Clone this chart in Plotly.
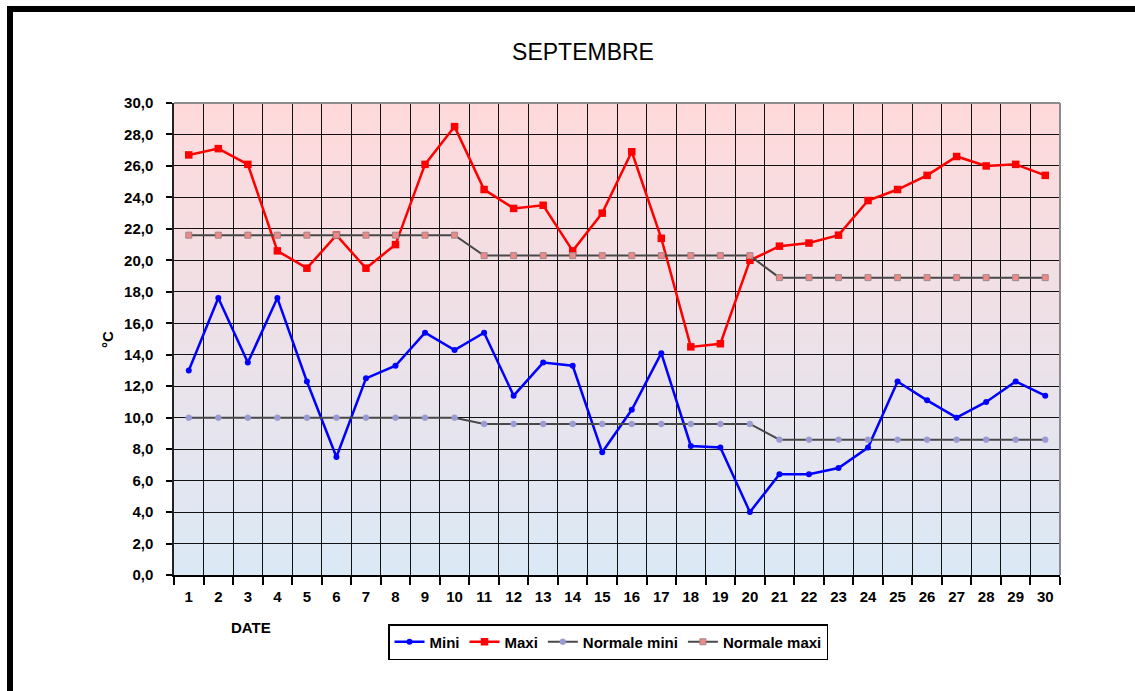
import plotly.graph_objects as go

# Températures journalières de septembre (°C)
days = list(range(1, 31))
mini = [13.0, 17.6, 13.5, 17.6, 12.3, 7.5, 12.5, 13.3, 15.4, 14.3,
        15.4, 11.4, 13.5, 13.3, 7.8, 10.5, 14.1, 8.2, 8.1, 4.0,
        6.4, 6.4, 6.8, 8.1, 12.3, 11.1, 10.0, 11.0, 12.3, 11.4]
maxi = [26.7, 27.1, 26.1, 20.6, 19.5, 21.6, 19.5, 21.0, 26.1, 28.5,
        24.5, 23.3, 23.5, 20.6, 23.0, 26.9, 21.4, 14.5, 14.7, 20.0,
        20.9, 21.1, 21.6, 23.8, 24.5, 25.4, 26.6, 26.0, 26.1, 25.4]
normale_mini = [10.0] * 10 + [9.6] * 10 + [8.6] * 10
normale_maxi = [21.6] * 10 + [20.3] * 10 + [18.9] * 10

W, H = 1135, 691
ML, MR, MT, MB = 174, 75, 103, 116
PW, PH = W - ML - MR, H - MT - MB


def px_x(p):
    return (p - ML) / PW


def px_y(p):
    return (H - MB - p) / PH


fig = go.Figure()

fig.add_trace(go.Scatter(
    x=days, y=mini, name="Mini", mode="lines+markers",
    line=dict(color="#0000FF", width=2.5),
    marker=dict(symbol="circle", size=6, color="#0000FF"),
))
fig.add_trace(go.Scatter(
    x=days, y=maxi, name="Maxi", mode="lines+markers",
    line=dict(color="#FF0000", width=2.5),
    marker=dict(symbol="square", size=7.5, color="#FF0000"),
))
fig.add_trace(go.Scatter(
    x=days, y=normale_mini, name="Normale mini", mode="lines+markers",
    line=dict(color="#484848", width=2),
    marker=dict(symbol="circle", size=6, color="#9A9AD8",
                line=dict(color="#A0A0C0", width=0.5)),
))
fig.add_trace(go.Scatter(
    x=days, y=normale_maxi, name="Normale maxi", mode="lines+markers",
    line=dict(color="#484848", width=2),
    marker=dict(symbol="square", size=6, color="#F08888",
                line=dict(color="#A08888", width=1)),
))

# Vertical gradient background: pink at the top, light blue at the bottom
shapes = []
top = (255, 217, 218)
bot = (219, 233, 246)
n = 80
for i in range(n):
    t = (i + 0.5) / n
    c = tuple(round(top[k] + (bot[k] - top[k]) * t) for k in range(3))
    shapes.append(dict(
        type="rect", xref="paper", yref="paper",
        x0=0, x1=1, y0=1 - (i + 1) / n, y1=1 - i / n + 0.002,
        fillcolor="rgb(%d,%d,%d)" % c, line=dict(width=0), layer="below",
    ))

# Grey top and right borders of the plot area
shapes.append(dict(type="line", xref="paper", yref="paper", x0=0, x1=1, y0=1, y1=1,
                   line=dict(color="#8C8C8C", width=2)))
shapes.append(dict(type="line", xref="paper", yref="paper", x0=1, x1=1, y0=0, y1=1,
                   line=dict(color="#8C8C8C", width=2)))

# Thick black frame around the chart
shapes.append(dict(type="line", xref="paper", yref="paper",
                   x0=px_x(10), x1=px_x(W + 20), y0=px_y(9), y1=px_y(9),
                   line=dict(color="black", width=6)))
shapes.append(dict(type="line", xref="paper", yref="paper",
                   x0=px_x(10), x1=px_x(10), y0=px_y(6), y1=px_y(H + 20),
                   line=dict(color="black", width=6)))

bold = "Liberation Sans, Arial, sans-serif"

fig.update_layout(
    width=W, height=H,
    margin=dict(l=ML, r=MR, t=MT, b=MB),
    paper_bgcolor="white",
    plot_bgcolor="white",
    separators=", ",
    shapes=shapes,
    showlegend=True,
    title=dict(text="SEPTEMBRE", x=583 / W, xanchor="center",
               y=1 - 52 / H, yanchor="middle",
               font=dict(family=bold, size=23, color="black")),
    legend=dict(
        orientation="h", x=px_x(608), xanchor="center",
        y=px_y(624), yanchor="top",
        bordercolor="black", borderwidth=1.5, bgcolor="white",
        font=dict(family=bold, size=15, color="black", weight="bold"),
        itemwidth=30, tracegroupgap=0,
    ),
    annotations=[
        dict(text="°C", xref="paper", yref="paper", x=px_x(107), y=px_y(340),
             xanchor="center", yanchor="middle",
             showarrow=False, textangle=-90,
             font=dict(family=bold, size=15, color="black", weight="bold")),
        dict(text="DATE", xref="paper", yref="paper", x=px_x(251), y=px_y(627),
             xanchor="center", yanchor="middle",
             showarrow=False,
             font=dict(family=bold, size=15, color="black", weight="bold")),
    ],
)

fig.update_xaxes(
    range=[0.5, 30.5],
    tickmode="array", tickvals=days, ticktext=[str(d) for d in days],
    ticks="outside", ticklen=7, tickcolor="rgba(0,0,0,0)",
    showgrid=False, zeroline=False,
    showline=True, linecolor="black", linewidth=1.5,
    tickfont=dict(family=bold, size=15, color="black", weight="bold"),
    minor=dict(tickmode="array", tickvals=[d + 0.5 for d in range(0, 31)],
               ticks="outside", ticklen=8, tickcolor="black", tickwidth=1.5,
               showgrid=True, gridcolor="#111111", gridwidth=1.3),
)
fig.update_yaxes(
    range=[0, 30], dtick=2, tick0=0, tickformat=".1f",
    ticks="outside", ticklen=6, tickcolor="black", tickwidth=1.5,
    ticklabelstandoff=10,
    showgrid=True, gridcolor="#111111", gridwidth=1.3,
    zeroline=False, showline=True, linecolor="#222222", linewidth=1.5,
    tickfont=dict(family=bold, size=15, color="black", weight="bold"),
)

fig.write_html("out.html")
